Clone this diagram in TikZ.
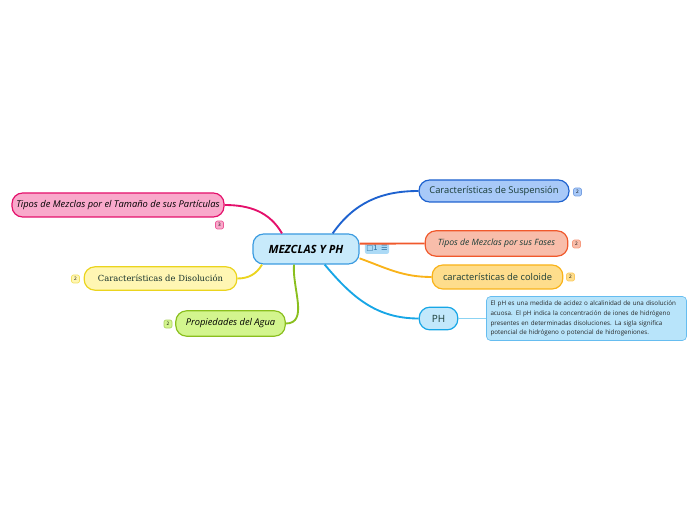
\documentclass[tikz,border=0pt]{standalone}
\usepackage{fontspec}
\setmainfont{Open Sans}
\newfontfamily\slabfont{DejaVu Serif}
\newfontfamily\symfont{DejaVu Sans}
\usetikzlibrary{arrows.meta,positioning}
\definecolor{TxtDark}{RGB}{25,60,54}
\definecolor{MidFill}{RGB}{200,234,251}
\definecolor{MidLine}{RGB}{59,155,224}
\definecolor{PinkFill}{RGB}{249,169,203}
\definecolor{PinkLine}{RGB}{228,16,107}
\definecolor{YelFill}{RGB}{255,246,179}
\definecolor{YelLine}{RGB}{235,212,30}
\definecolor{GrnFill}{RGB}{211,245,142}
\definecolor{GrnLine}{RGB}{138,191,30}
\definecolor{BluFill}{RGB}{168,201,248}
\definecolor{BluLine}{RGB}{30,98,207}
\definecolor{SalFill}{RGB}{248,189,170}
\definecolor{SalLine}{RGB}{240,89,44}
\definecolor{OrgFill}{RGB}{254,221,140}
\definecolor{OrgLine}{RGB}{249,179,26}
\definecolor{PhFill}{RGB}{194,232,251}
\definecolor{PhLine}{RGB}{23,166,230}
\definecolor{NoteFill}{RGB}{184,228,250}
\definecolor{NoteLine}{RGB}{102,189,240}

\begin{document}
\begin{tikzpicture}[
    x=0.75pt, y=-0.75pt,
    topic/.style={draw, rounded corners=8pt, line width=0.9pt, inner sep=0pt,
                  text=TxtDark, font=\fontsize{7}{8}\selectfont},
    badge/.style={draw, rounded corners=1.5pt, line width=0.5pt, inner sep=1pt,
                  minimum width=6pt, minimum height=6pt, font=\fontsize{3.5}{4}\selectfont},
    branch/.style={line width=1.4pt}
]
    \useasboundingbox (0,0) rectangle (696,520);

    % central topic
    \node[topic, draw=MidLine, fill=MidFill, minimum width=79.5pt, minimum height=22.5pt,
          text=black, font=\fontsize{8.5}{10}\selectfont\bfseries\itshape]
          (mid) at (306,249) {MEZCLAS Y PH};
    \node[badge, draw=none, fill=MidFill!80!MidLine, text=MidLine!70!black,
          minimum height=8pt, font=\symfont\fontsize{5.5}{6}\selectfont]
          (cmt) at (377,248.5) {□1\hspace{2.5pt}☰};

    % left side
    \node[topic, draw=PinkLine, fill=PinkFill, minimum width=159pt, minimum height=18pt,
          text=black, font=\fontsize{7}{8}\selectfont\itshape]
          (tam) at (118,205) {Tipos de Mezclas por el Tamaño de sus Partículas};
    \node[badge, draw=PinkLine!70, fill=PinkFill] (tamn) at (219.5,225) {3};

    \node[topic, draw=YelLine, fill=YelFill, minimum width=114.5pt, minimum height=17.5pt,
          text=TxtDark!80!black, font=\slabfont\fontsize{6.3}{8}\selectfont]
          (dis) at (160.5,278.5) {Características de Disolución};
    \node[badge, draw=YelLine!70, fill=YelFill] (disn) at (75.5,279) {2};

    \node[topic, draw=GrnLine, fill=GrnFill, minimum width=82pt, minimum height=19pt,
          text=black, font=\fontsize{7}{8}\selectfont\itshape]
          (agua) at (230.5,323.5) {Propiedades del Agua};
    \node[badge, draw=GrnLine!70, fill=GrnFill] (aguan) at (168,324) {2};

    % right side
    \node[topic, draw=BluLine, fill=BluFill, minimum width=112.5pt, minimum height=16.5pt]
          (sus) at (494,191) {Características de Suspensión};
    \node[badge, draw=BluLine!60, fill=BluFill] (susn) at (577.5,192) {2};

    \node[topic, draw=SalLine, fill=SalFill, minimum width=107pt, minimum height=19pt,
          font=\fontsize{6.5}{8}\selectfont\itshape]
          (fas) at (496.5,243.5) {Tipos de Mezclas por sus Fases};
    \node[badge, draw=SalLine!60, fill=SalFill] (fasn) at (576.5,244) {2};

    \node[topic, draw=OrgLine, fill=OrgFill, minimum width=98pt, minimum height=18pt]
          (col) at (497.5,277) {características de coloide};
    \node[badge, draw=OrgLine!70, fill=OrgFill] (coln) at (570.5,277) {2};

    \node[topic, draw=PhLine, fill=PhFill, minimum width=29pt, minimum height=17pt,
          font=\fontsize{7.5}{9}\selectfont]
          (ph) at (438.5,318.5) {PH};

    \node[draw=NoteLine, fill=NoteFill, rounded corners=3pt, line width=0.5pt,
          text width=144pt, inner sep=3pt, align=left, text=black!85,
          font=\fontsize{4.7}{7.4}\selectfont]
          (nota) at (586.5,318.5) {El pH es una medida de acidez o alcalinidad de una disolución\\
          acuosa. El pH indica la concentración de iones de hidrógeno\\
          presentes en determinadas disoluciones. La sigla significa\\
          potencial de hidrógeno o potencial de hidrogeniones.};

    % branches
    \draw[branch, PinkLine] ([xshift=-18pt]mid.north) to[out=120, in=0] (tam.east);
    \draw[branch, YelLine] ([xshift=-33pt]mid.south) to[out=-120, in=0] (dis.east);
    \draw[branch, GrnLine] ([xshift=-9pt]mid.south) to[out=-95, in=0] (agua.east);
    \draw[branch, BluLine] ([xshift=20pt]mid.north) to[out=55, in=180] (sus.west);
    \draw[branch, SalLine] ([yshift=4pt]mid.east) to[out=0, in=180] (fas.west);
    \draw[branch, OrgLine] ([yshift=-7pt]mid.east) to[out=-20, in=180] (col.west);
    \draw[branch, PhLine] ([xshift=14pt]mid.south) to[out=-50, in=180] (ph.west);
    \draw[PhLine!50, line width=0.7pt] (ph.east) -- (nota.west);
\end{tikzpicture}
\end{document}
